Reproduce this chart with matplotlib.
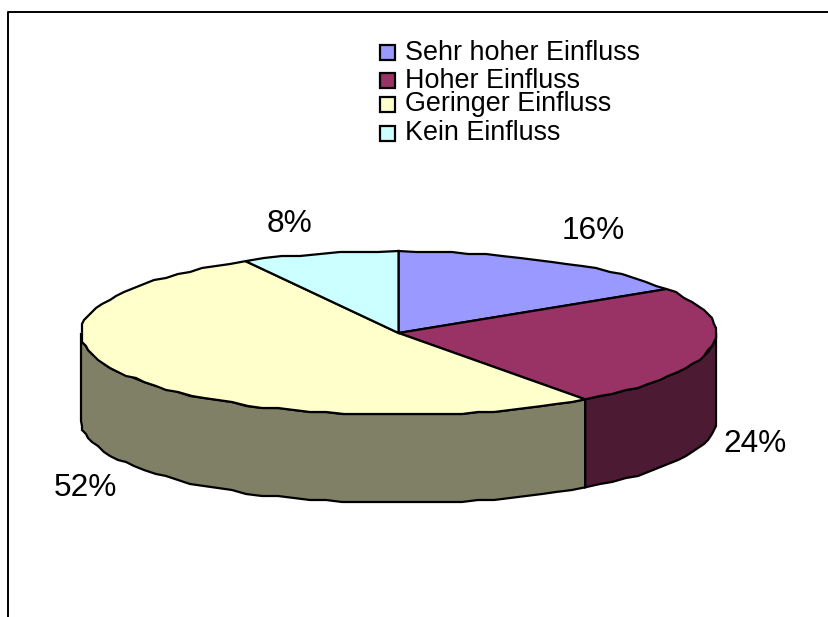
import numpy as np
import matplotlib
matplotlib.use('Agg')
import matplotlib.pyplot as plt
from matplotlib.patches import Polygon, Rectangle

plt.rcParams['font.family'] = ['Liberation Sans', 'DejaVu Sans']

labels = ['Sehr hoher Einfluss', 'Hoher Einfluss', 'Geringer Einfluss', 'Kein Einfluss']
values = [16, 24, 52, 8]
top_colors = ['#9999FF', '#993366', '#FFFFCC', '#CCFFFF']
side_colors = ['#4D4D80', '#4D1A33', '#808066', '#668080']
pct_labels = ['16%', '24%', '52%', '8%']

W, H = 829, 617
fig = plt.figure(figsize=(W / 100, H / 100), dpi=100)
ax = fig.add_axes([0, 0, 1, 1])
ax.set_xlim(0, W)
ax.set_ylim(H, 0)
ax.axis('off')

# pie geometry in pixels
cx, cy = 398.5, 333
rx, ry = 317.5, 82
depth = 88
grid = 2  # the original rim is a little rough, snap it to a small grid


def rim(a, b):
    t = np.linspace(a, b, max(int(abs(b - a) / 3), 2))
    x = cx + rx * np.sin(np.radians(t))
    y = cy - ry * np.cos(np.radians(t))
    x[1:-1] = np.round(x[1:-1] / grid) * grid
    y[1:-1] = np.round(y[1:-1] / grid) * grid
    return x, y


# chart frame, only left and top visible
ax.plot([8, 8, W], [H, 12, 12], color='black', lw=1.4, solid_capstyle='butt')

# side walls first, only the front half of the rim
edges = np.cumsum([0] + values) * 3.6
for i in range(len(values)):
    a = max(edges[i], 90)
    b = min(edges[i + 1], 270)
    if a >= b:
        continue
    x, y = rim(a, b)
    px = np.concatenate([x, x[::-1]])
    py = np.concatenate([y, y[::-1] + depth])
    ax.add_patch(Polygon(np.column_stack([px, py]), closed=True, fc=side_colors[i],
                         ec='black', lw=1.6, zorder=2))

# top faces
for i in range(len(values)):
    x, y = rim(edges[i], edges[i + 1])
    px = np.concatenate([[cx], x])
    py = np.concatenate([[cy], y])
    ax.add_patch(Polygon(np.column_stack([px, py]), closed=True, fc=top_colors[i],
                         ec='black', lw=1.6, zorder=3))

# percent labels
label_pos = [(593, 231), (755, 444), (85, 488), (290, 224)]
for s, (x, y) in zip(pct_labels, label_pos):
    ax.text(x, y, s, fontsize=22.8, ha='center', va='center', color='black')

# legend, the rows are not evenly spaced in the original
box_y = [52.5, 80.5, 104.5, 133.5]
text_y = [52.5, 80.5, 104, 133]
for i, s in enumerate(labels):
    ax.add_patch(Rectangle((380.5, box_y[i] - 7.5), 15, 15, fc=top_colors[i], ec='black', lw=1.6, zorder=3))
    ax.text(405, text_y[i], s, fontsize=19.4, ha='left', va='center', color='black')

fig.savefig('out.png', dpi=100)
